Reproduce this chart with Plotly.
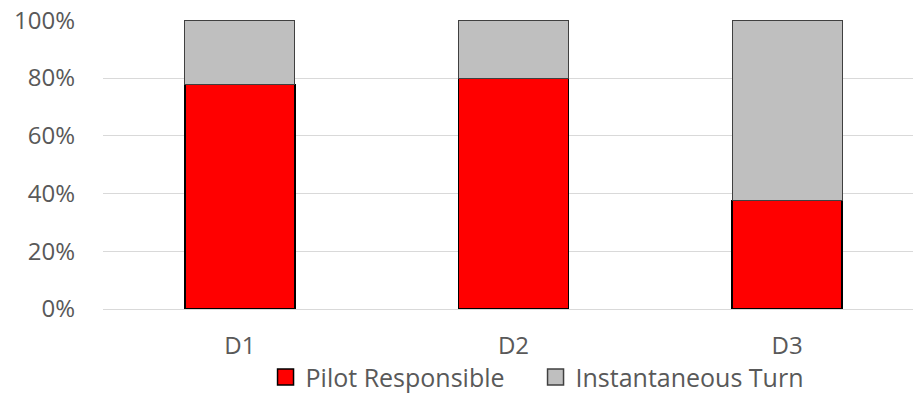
import plotly.graph_objects as go

categories = ["D1", "D2", "D3"]
pilot_responsible = [77.7, 79.8, 37.6]
instantaneous_turn = [22.3, 20.2, 62.4]
y_ticks = [0, 20, 40, 60, 80, 100]
y_tick_labels = ["0%", "20%", "40%", "60%", "80%", "100%"]
series_names = ["Pilot Responsible", "Instantaneous Turn"]
fill_colors = ["#FF0000", "#BFBFBF"]
edge_colors = ["#000000", "#404040"]

font_family = "'Open Sans', sans-serif"
txt = "#595959"

fig = go.Figure()
for vals, name, fc, ec, lw in zip([pilot_responsible, instantaneous_turn], series_names,
                                  fill_colors, edge_colors, [1.5, 1]):
    fig.add_trace(go.Bar(
        x=categories, y=vals, name=name, showlegend=False,
        marker=dict(color=fc, line=dict(color=ec, width=lw)),
        width=0.402,
    ))
# legend entries with larger square icons
for name, fc, ec in zip(series_names, fill_colors, edge_colors):
    fig.add_trace(go.Scatter(
        x=[None], y=[None], mode="markers", name=name,
        marker=dict(symbol="square", size=16, color=fc, line=dict(color=ec, width=1.5)),
    ))

fig.update_layout(
    barmode="stack",
    width=913, height=394,
    margin=dict(l=103, r=0, t=20, b=85, autoexpand=False),
    plot_bgcolor="white", paper_bgcolor="white",
    font=dict(family=font_family, size=24, color=txt),
    showlegend=True,
    legend=dict(orientation="h", x=0.534, xanchor="center", y=-0.236, yanchor="middle",
                font=dict(size=25, color=txt), itemwidth=30, traceorder="normal",
                itemsizing="trace", entrywidth=225),
    xaxis=dict(range=[-0.5, 2.46], showgrid=False, showline=False, ticks="",
               ticklabelstandoff=20, automargin=False,
               tickfont=dict(size=24, color=txt)),
    yaxis=dict(range=[0, 100.1], tickvals=y_ticks, ticktext=y_tick_labels,
               showgrid=True, gridcolor="#D9D9D9", gridwidth=1,
               zeroline=True, zerolinecolor="#D9D9D9", zerolinewidth=1,
               showline=False, ticks="", ticklen=0, ticklabelstandoff=27,
               automargin=False,
               tickfont=dict(size=24, color=txt)),
)

fig.write_html("out.html", config={"displayModeBar": False},
               post_script="document.body.style.margin='0';")
